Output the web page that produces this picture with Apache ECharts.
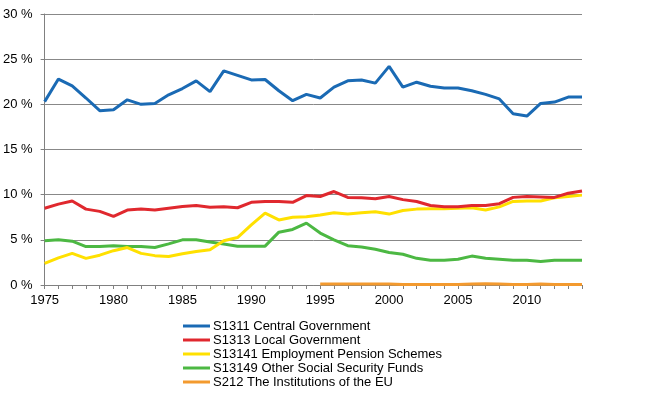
<!DOCTYPE html>
<html><head><meta charset="utf-8">
<script src="https://cdn.jsdelivr.net/npm/echarts@6/dist/echarts.min.js"></script>
<style>html,body{margin:0;padding:0;background:#fff}#c{width:657px;height:411px}</style>
</head><body><div id="c"></div>
<script>
const years = [];
for (let y = 1975; y <= 2014; y++) years.push(String(y));
const centralGov = [20.3,22.8,22.05,20.7,19.3,19.4,20.5,20.0,20.1,21.05,21.75,22.6,21.4,23.7,23.2,22.7,22.75,21.5,20.4,21.1,20.7,21.9,22.6,22.7,22.35,24.2,21.9,22.45,22.0,21.8,21.8,21.5,21.1,20.6,18.95,18.7,20.1,20.25,20.8,20.8];
const localGov = [8.5,8.95,9.3,8.4,8.15,7.6,8.3,8.4,8.3,8.5,8.7,8.8,8.6,8.65,8.55,9.15,9.25,9.25,9.15,9.9,9.8,10.35,9.7,9.65,9.55,9.8,9.45,9.25,8.8,8.65,8.65,8.8,8.8,9.0,9.7,9.8,9.75,9.7,10.15,10.4];
const pensionSchemes = [2.4,3.0,3.5,2.95,3.3,3.8,4.15,3.5,3.25,3.15,3.45,3.7,3.9,4.9,5.25,6.65,7.95,7.2,7.5,7.55,7.75,8.0,7.85,8.0,8.1,7.85,8.25,8.4,8.45,8.45,8.5,8.55,8.3,8.65,9.25,9.3,9.3,9.65,9.8,9.95];
const otherSSF = [4.9,5.0,4.85,4.25,4.25,4.35,4.25,4.25,4.15,4.55,5.0,5.0,4.75,4.55,4.3,4.3,4.3,5.85,6.15,6.85,5.75,5.0,4.35,4.2,3.95,3.6,3.4,2.95,2.75,2.75,2.85,3.2,2.95,2.85,2.75,2.75,2.6,2.75,2.75,2.75];
const euInstitutions = [null,null,null,null,null,null,null,null,null,null,null,null,null,null,null,null,null,null,null,null,0.1,0.1,0.1,0.1,0.1,0.1,0.05,0.05,0.05,0.05,0.05,0.1,0.15,0.1,0.05,0.05,0.1,0.05,0.05,0.05];
const seriesNames = ['S1311 Central Government','S1313 Local Government','S13141 Employment Pension Schemes','S13149 Other Social Security Funds','S212 The Institutions of the EU'];
const seriesData = [centralGov, localGov, pensionSchemes, otherSSF, euInstitutions];
const colors = ['#1a6ab4','#e0282e','#ffe000','#4cb843','#f39a2f'];
const font = 'Liberation Sans, Arial, sans-serif';
const chart = echarts.init(document.getElementById('c'));
chart.setOption({
  animation:false,
  color: colors,
  grid:{left:44,right:75,top:14,bottom:126,containLabel:false},
  legend:{orient:'vertical',left:178,top:314,itemWidth:27,itemHeight:3,itemGap:0,icon:'rect',
    textStyle:{fontFamily:font,fontSize:13,color:'#000',lineHeight:14,padding:[0,0,0,-2]},
    data:seriesNames},
  xAxis:{type:'category',data:years,boundaryGap:false,
    axisLine:{lineStyle:{color:'#808080',width:1}},
    axisTick:{interval:0,length:4,lineStyle:{color:'#808080'}},
    axisLabel:{interval:4,fontFamily:font,fontSize:13,color:'#000',margin:9},
    splitLine:{show:false}},
  yAxis:{type:'value',min:0,max:30,interval:5,
    axisLine:{show:true,lineStyle:{color:'#808080'}},
    axisTick:{show:true,length:4,lineStyle:{color:'#808080'}},
    axisLabel:{formatter:'{value} %',fontFamily:font,fontSize:13,color:'#000',margin:12},
    splitLine:{lineStyle:{color:'#888',width:1}}},
  series: seriesData.map((d,i)=>({name:seriesNames[i],type:'line',data:d,symbol:'none',
    lineStyle:{width:3,color:colors[i]},z:10-i}))
});
</script></body></html>
